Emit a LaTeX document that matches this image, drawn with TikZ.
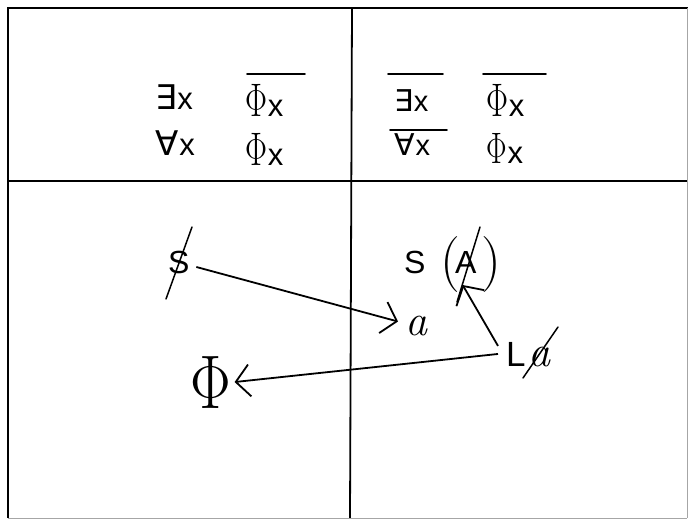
\documentclass[tikz,border=0pt]{standalone}
\usepackage{fix-cm}
\usepackage[no-math]{fontspec}
\usepackage{graphicx}
\usetikzlibrary{arrows.meta}
\newfontfamily\sansf{Liberation Sans}
\newfontfamily\symf{DejaVu Sans}
\newcommand\fsz[1]{\fontsize{#1}{#1}\selectfont}
\newcommand\phis[2]{\scalebox{#2}[1]{\fsz{#1}$\Phi$}}
\tikzset{
  lbl/.style={inner sep=0pt, outer sep=0pt, anchor=base west},
  frame/.style={line width=1.8pt, black},
  faint/.style={line width=0.8pt, black!35},
  ov/.style={line width=1.8pt, line cap=round},
  slash/.style={line width=1.5pt, line cap=round},
  arr/.style={line width=1.8pt, -{Straight Barb[length=14pt,width=32pt,line width=1.8pt]}},
}
\begin{document}
\begin{tikzpicture}[x=1pt,y=-1pt]
\useasboundingbox (0,0) rectangle (688,520);
% frame
\draw[frame] (8,518) -- (8,8) -- (688,8);
\draw[frame] (8,181) -- (688,181);
\draw[frame] (352,8) -- (350,518);
\draw[faint] (687,8) -- (687,518);
\draw[faint] (8,518) -- (687,518);
% top left
\node[lbl] (e1) at (155,109) {\symf\fsz{34}∃\kern1pt\sansf\fsz{31}x};
\node[lbl] (p1) at (245,116) {\phis{47}{0.7}\kern1pt\sansf\fsz{31}x};
\node[lbl] (f1) at (155,155) {\symf\fsz{34}∀\kern1pt\sansf\fsz{31}x};
\node[lbl] (p2) at (245,165) {\phis{47}{0.7}\kern1pt\sansf\fsz{31}x};
\draw[ov] (247,74) -- (305,74);
% top right
\node[lbl] (e2) at (394,111) {\symf\fsz{30}∃\kern1pt\sansf\fsz{29}x};
\node[lbl] (p3) at (486,116) {\phis{47}{0.7}\kern1pt\sansf\fsz{31}x};
\node[lbl] (f2) at (394,155) {\symf\fsz{30}∀\kern1pt\sansf\fsz{29}x};
\node[lbl] (p4) at (486,163) {\phis{44}{0.7}\kern1pt\sansf\fsz{31}x};
\draw[ov] (388,74) -- (443,74);
\draw[ov] (483,74) -- (546,74);
\draw[ov] (390,130) -- (447,130);
% bottom left
\node[lbl] (S1) at (168,273) {\sansf\fsz{32}S};
\draw[slash] (192,227) -- (166,299);
\node[lbl] (a1) at (405,335) {\fsz{44}\itshape a};
\node[lbl] (Phi) at (190,408) {\phis{76}{0.8}};
% bottom right
\node[lbl] (S2) at (404,273) {\sansf\fsz{32}S};
\node[lbl] (lp) at (440,278) {\fsz{56}(};
\node[lbl] (A) at (455,273) {\sansf\fsz{32}A};
\node[lbl] (rp) at (481,278) {\fsz{56})};
\draw[slash] (480,227) -- (457,302);
\node[lbl] (L) at (506,366) {\sansf\fsz{35}L};
\node[lbl] (a2) at (528,366) {\fsz{44}\itshape a};
\draw[slash] (558,327) -- (523,378);
% arrows
\draw[arr] ([shift={(7pt,-5pt)}]S1.east) -- ([shift={(-7pt,4pt)}]a1.west);
\draw[arr] ([shift={(-8pt,-4pt)}]L.north west) -- ([shift={(-3pt,-12pt)}]A.south);
\draw[arr] ([xshift=-8pt]L.west) -- ([xshift=4pt]Phi.east);
\end{tikzpicture}
\end{document}
